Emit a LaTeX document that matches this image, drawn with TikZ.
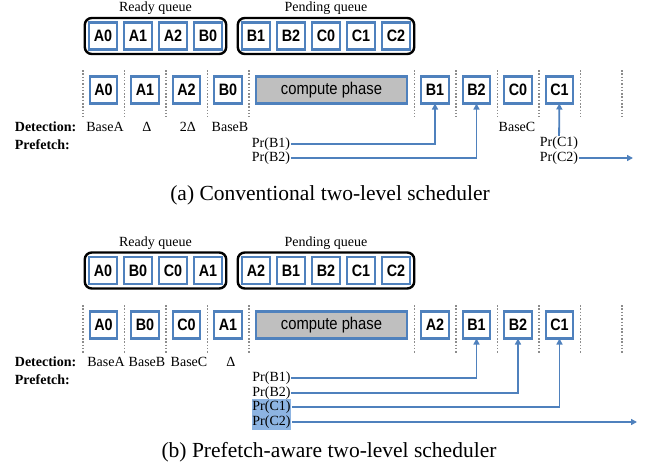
\documentclass[tikz,border=0pt]{standalone}
\usepackage{fontspec}
\setmainfont{Liberation Serif}
\setsansfont{Liberation Sans}[FakeStretch=0.87]
\usetikzlibrary{arrows.meta,positioning,fit}

\definecolor{boxblue}{RGB}{79,129,189}
\definecolor{phasegray}{RGB}{191,191,191}
\definecolor{slotgray}{RGB}{140,140,140}
\definecolor{hlblue}{RGB}{141,180,226}

\begin{document}
\begin{tikzpicture}[
    x = 1pt, y = -1pt, % pixel units, y runs downwards
    > = {Triangle[length=6pt,width=6pt]}, % arrow head style
    node distance = 7.5pt, % gap between queue entries
    line width = 1.8pt
    ]

    \tikzset{
    task/.style = {draw = boxblue, fill = white, line width = 2.3pt,
        minimum width = 27.5pt, minimum height = 27pt, inner sep = 0pt,
        outer sep = 0pt, font = \sffamily\bfseries\fontsize{16.5}{16.5}\selectfont},
    phase/.style = {task, fill = phasegray, minimum width = 150.5pt,
        font = \sffamily\fontsize{17}{17}\selectfont},
    queue/.style = {draw = black, line width = 2.4pt, rounded corners = 7pt, inner sep = 4.5pt},
    slot/.style = {draw = slotgray, line width = 1.8pt, dash pattern = on 1.5pt off 1.8pt},
    lbl/.style = {inner sep = 0pt, font = \fontsize{14}{14}\selectfont},
    rowhead/.style = {lbl, anchor = west, font = \bfseries\fontsize{14}{14}\selectfont},
    pr/.style = {->, draw = boxblue, line width = 1.8pt},
    hl/.style = {lbl, fill = hlblue, inner xsep = 0.5pt, minimum height = 16pt},
    caption/.style = {font = \fontsize{21.5}{22}\selectfont}
    }

    \useasboundingbox (0,0) rectangle (646,467);

    % ---- (a) conventional ----
    \node[task] (aq1) at (103,36) {A0};
    \node[task] (aq2) [right=of aq1] {A1};
    \node[task] (aq3) [right=of aq2] {A2};
    \node[task] (aq4) [right=of aq3] {B0};
    \node[task] (aq5) [right=20.5pt of aq4] {B1};
    \node[task] (aq6) [right=of aq5] {B2};
    \node[task] (aq7) [right=of aq6] {C0};
    \node[task] (aq8) [right=of aq7] {C1};
    \node[task] (aq9) [right=of aq8] {C2};
    \node[queue, fit=(aq1)(aq4)] (aready) {};
    \node[queue, fit=(aq5)(aq9)] (apend) {};
    \node[lbl] (areadyt) [above=1pt of aready] {Ready queue};
    \node[lbl] (apendt) [above=1pt of apend] {Pending queue};

    \draw[slot] (83,70) -- (83,117) (124.5,70) -- (124.5,117) (166,70) -- (166,117)
        (207.5,70) -- (207.5,117) (249,70) -- (249,117) (414.5,70) -- (414.5,117)
        (456,70) -- (456,117) (497.5,70) -- (497.5,117) (539,70) -- (539,117)
        (580.5,70) -- (580.5,117) (622,70) -- (622,117);

    \node[task] (at1) at (103.5,90) {A0};
    \node[task] (at2) [right=14pt of at1] {A1};
    \node[task] (at3) [right=14pt of at2] {A2};
    \node[task] (at4) [right=14pt of at3] {B0};
    \node[phase] (acomp) [right=14.5pt of at4] {compute phase};
    \node[task] (at5) [right=14.5pt of acomp] {B1};
    \node[task] (at6) [right=14pt of at5] {B2};
    \node[task] (at7) [right=14pt of at6] {C0};
    \node[task] (at8) [right=14pt of at7] {C1};

    \node[rowhead] (adet) at (14,127) {Detection:};
    \node[rowhead] (apre) at (14,145) {Prefetch:};
    \node[lbl] (ad1) at (105,127) {BaseA};
    \node[lbl] (ad2) at (147,127) {Δ};
    \node[lbl] (ad3) at (188,127) {2Δ};
    \node[lbl] (ad4) at (230,127) {BaseB};
    \node[lbl] (ad5) at (517,127) {BaseC};

    \node[lbl] (aprB1) at (271,144) {Pr(B1)};
    \node[lbl] (aprB2) at (271,158) {Pr(B2)};
    \node[lbl] (aprC1) at (559,143) {Pr(C1)};
    \node[lbl] (aprC2) at (559,158) {Pr(C2)};
    \coordinate (aend) at (633,158);
    \draw[pr] (aprB1) -| (at5);
    \draw[pr] (aprB2) -| (at6);
    \draw[pr] (aprC1) -- (at8);
    \draw[pr] (aprC2) -- (aend);

    \node[caption] (acap) at (330,195) {(a) Conventional two-level scheduler};

    % ---- (b) prefetch-aware ----
    \node[task] (bq1) at (103,270.5) {A0};
    \node[task] (bq2) [right=of bq1] {B0};
    \node[task] (bq3) [right=of bq2] {C0};
    \node[task] (bq4) [right=of bq3] {A1};
    \node[task] (bq5) [right=20.5pt of bq4] {A2};
    \node[task] (bq6) [right=of bq5] {B1};
    \node[task] (bq7) [right=of bq6] {B2};
    \node[task] (bq8) [right=of bq7] {C1};
    \node[task] (bq9) [right=of bq8] {C2};
    \node[queue, fit=(bq1)(bq4)] (bready) {};
    \node[queue, fit=(bq5)(bq9)] (bpend) {};
    \node[lbl] (breadyt) [above=1pt of bready] {Ready queue};
    \node[lbl] (bpendt) [above=1pt of bpend] {Pending queue};

    \draw[slot] (83,305) -- (83,353) (124.5,305) -- (124.5,353) (166,305) -- (166,353)
        (207.5,305) -- (207.5,353) (249,305) -- (249,353) (414.5,305) -- (414.5,353)
        (456,305) -- (456,353) (497.5,305) -- (497.5,353) (539,305) -- (539,353)
        (580.5,305) -- (580.5,353) (622,305) -- (622,353);

    \node[task] (bt1) at (103.5,325) {A0};
    \node[task] (bt2) [right=14pt of bt1] {B0};
    \node[task] (bt3) [right=14pt of bt2] {C0};
    \node[task] (bt4) [right=14pt of bt3] {A1};
    \node[phase] (bcomp) [right=14.5pt of bt4] {compute phase};
    \node[task] (bt5) [right=14.5pt of bcomp] {A2};
    \node[task] (bt6) [right=14pt of bt5] {B1};
    \node[task] (bt7) [right=14pt of bt6] {B2};
    \node[task] (bt8) [right=14pt of bt7] {C1};

    \node[rowhead] (bdet) at (14,362) {Detection:};
    \node[rowhead] (bpre) at (14,380) {Prefetch:};
    \node[lbl] (bd1) at (106,362) {BaseA};
    \node[lbl] (bd2) at (147,362) {BaseB};
    \node[lbl] (bd3) at (189,362) {BaseC};
    \node[lbl] (bd4) at (231,362) {Δ};

    \node[lbl] (bprB1) at (271.5,378) {Pr(B1)};
    \node[lbl] (bprB2) at (271.5,393) {Pr(B2)};
    \node[hl] (bprC1) at (271.5,407) {Pr(C1)};
    \node[hl] (bprC2) at (271.5,422) {Pr(C2)};
    \coordinate (bend) at (637,422);
    \draw[pr] (bprB1) -| (bt6);
    \draw[pr] (bprB2) -| (bt7);
    \draw[pr] (bprC1) -| (bt8);
    \draw[pr] (bprC2) -- (bend);

    \node[caption] (bcap) at (329,452) {(b) Prefetch-aware two-level scheduler};
\end{tikzpicture}
\end{document}
